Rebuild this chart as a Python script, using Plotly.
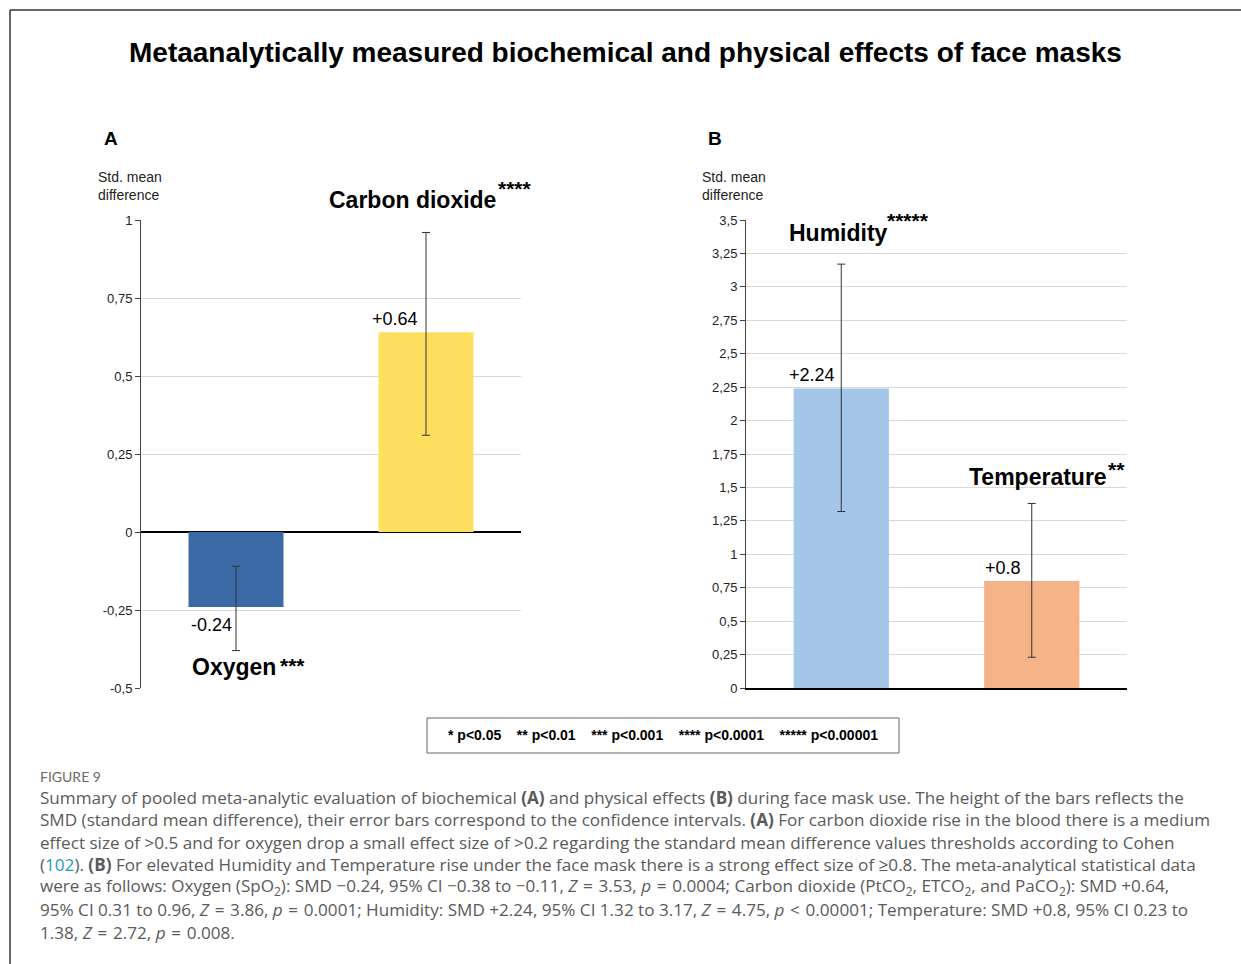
import plotly.graph_objects as go

# ---- data -------------------------------------------------------------
categories_a = ["Oxygen", "Carbon dioxide"]
smd_a = [-0.24, 0.64]
ci_low_a = [-0.38, 0.31]
ci_high_a = [-0.11, 0.96]
stars_a = ["***", "****"]
colors_a = ["#3B6AA6", "#FFDF5F"]

categories_b = ["Humidity", "Temperature"]
smd_b = [2.24, 0.8]
ci_low_b = [1.32, 0.23]
ci_high_b = [3.17, 1.38]
stars_b = ["*****", "**"]
colors_b = ["#A4C6E8", "#F5B488"]

ticks_a = [-0.5, -0.25, 0, 0.25, 0.5, 0.75, 1]
ticks_b = [0, 0.25, 0.5, 0.75, 1, 1.25, 1.5, 1.75, 2, 2.25, 2.5, 2.75, 3, 3.25, 3.5]

significance_key = ["* p<0.05", "** p<0.01", "*** p<0.001", "**** p<0.0001", "***** p<0.00001"]

# ---- layout helpers ---------------------------------------------------
W, H = 1241, 964
ARIAL = "Liberation Sans, Arial, sans-serif"
CAPTION_FONT = "Open Sans, Lato, sans-serif"


def px(x):
    return x / W


def py(y):
    return 1 - y / H


def comma(v):
    s = f"{v:g}"
    return s.replace(".", ",")


fig = go.Figure()


def add_bars(cats, vals, lo, hi, cols, xa, ya):
    fig.add_trace(go.Bar(
        x=cats, y=vals, marker=dict(color=cols, line=dict(width=0)),
        width=0.5,
        error_y=dict(type="data", symmetric=False,
                     array=[h - v for h, v in zip(hi, vals)],
                     arrayminus=[v - l for v, l in zip(vals, lo)],
                     color="#333333", thickness=1, width=4),
        xaxis=xa, yaxis=ya, showlegend=False, hoverinfo="skip",
    ))


add_bars(categories_a, smd_a, ci_low_a, ci_high_a, colors_a, "x", "y")
add_bars(categories_b, smd_b, ci_low_b, ci_high_b, colors_b, "x2", "y2")

y_dom = [py(688), py(220)]
yaxis_common = dict(
    showline=True, linecolor="#444444", linewidth=1,
    ticks="outside", ticklen=5, tickcolor="#444444",
    gridcolor="#D9D9D9", gridwidth=1,
    tickfont=dict(family=ARIAL, size=13, color="#222222"),
    fixedrange=True, automargin=False,
)

fig.update_layout(
    width=W, height=H, autosize=False,
    margin=dict(l=0, r=0, t=0, b=0, pad=0, autoexpand=False),
    paper_bgcolor="white", plot_bgcolor="white",
    bargap=0.5,
    xaxis=dict(domain=[px(141), px(521)], type="category", range=[-0.5, 1.5],
               showticklabels=False, showgrid=False, zeroline=False, showline=False,
               fixedrange=True, automargin=False),
    yaxis=dict(domain=y_dom, range=[-0.5, 1], tickvals=ticks_a,
               ticktext=[comma(t) for t in ticks_a],
               zeroline=True, zerolinecolor="#000000", zerolinewidth=2,
               **yaxis_common),
    xaxis2=dict(domain=[px(746), px(1127)], type="category", range=[-0.5, 1.5],
                showticklabels=False, showgrid=False, zeroline=False,
                showline=True, linecolor="#000000", linewidth=2,
                anchor="y2", fixedrange=True, automargin=False),
    yaxis2=dict(domain=y_dom, range=[0, 3.5], tickvals=ticks_b,
                ticktext=[comma(t) for t in ticks_b],
                zeroline=False, anchor="x2",
                **yaxis_common),
)

annotations = []


def note(text, x, y, size, xanchor="left", yanchor="middle", color="#000000",
         family=ARIAL, xref="paper", yref="paper", xshift=0, yshift=0):
    annotations.append(dict(
        text=text, x=x, y=y, xref=xref, yref=yref, xanchor=xanchor, yanchor=yanchor,
        showarrow=False, font=dict(family=family, size=size, color=color),
        xshift=xshift, yshift=yshift, align="left",
    ))


# title
note("<b>Metaanalytically measured biochemical and physical effects of face masks</b>",
     px(625), py(52), 28, xanchor="center")

# panel letters and axis titles
note("<b>A</b>", px(102), py(139), 19)
note("<b>B</b>", px(706), py(139), 19)
note("Std. mean<br>difference", px(96), py(186), 14, color="#222222")
note("Std. mean<br>difference", px(700), py(186), 14, color="#222222")

# value labels tied to the bar values
for cat, v in zip(categories_a, smd_a):
    if v >= 0:
        note(f"{v:+g}", cat, v, 18, xanchor="center", yanchor="bottom",
             xref="x", yref="y", xshift=-31, yshift=1)
    else:
        note(f"{v:+g}", cat, v, 18, xanchor="center", yanchor="top",
             xref="x", yref="y", xshift=-25, yshift=-6)
for cat, v in zip(categories_b, smd_b):
    note(f"{v:+g}", cat, v, 18, xanchor="center", yanchor="bottom",
         xref="x2", yref="y2", xshift=-29, yshift=1)

# category names with significance stars (stars raised like superscripts)
name_pos = {
    "Oxygen": (190, 667, 278, 662),
    "Carbon dioxide": (327, 200, 496, 186),
    "Humidity": (787, 233, 885, 218),
    "Temperature": (967, 477, 1106, 466),
}
for cat, st in list(zip(categories_a, stars_a)) + list(zip(categories_b, stars_b)):
    nx, ny, sx, sy = name_pos[cat]
    note(f"<b>{cat}</b>", px(nx), py(ny), 23)
    note(f"<b>{st}</b>", px(sx), py(sy + 3), 21)

# significance key box
note("<b>" + "&nbsp;&nbsp;&nbsp;&nbsp;".join(significance_key) + "</b>",
     px(663), py(735), 14, xanchor="center")

# caption (math relations get slightly wider, typeset-style spacing)
EQ = "\u2004=\u2004"
LT = "\u2004&lt;\u2004"
note("FIGURE 9", px(38), py(776), 14, color="#6B6B6B", family="Lato, sans-serif")
caption_lines = [
    "Summary of pooled meta-analytic evaluation of biochemical <b>(A)</b> and physical effects <b>(B)</b> during face mask use. The height of the bars reflects the",
    "SMD (standard mean difference), their error bars correspond to the confidence intervals. <b>(A)</b> For carbon dioxide rise in the blood there is a medium",
    "effect size of &gt;0.5 and for oxygen drop a small effect size of &gt;0.2 regarding the standard mean difference values thresholds according to Cohen",
    "(<span style='color:#1E9CC0'>102</span>). <b>(B)</b> For elevated Humidity and Temperature rise under the face mask there is a strong effect size of ≥0.8. The meta-analytical statistical data",
    f"were as follows: Oxygen (SpO<sub>2</sub>): SMD −0.24, 95% CI −0.38 to −0.11, <i>Z</i>{EQ}3.53, <i>p</i>{EQ}0.0004; Carbon dioxide (PtCO<sub>2</sub>, ETCO<sub>2</sub>, and PaCO<sub>2</sub>): SMD +0.64,",
    f"95% CI 0.31 to 0.96, <i>Z</i>{EQ}3.86, <i>p</i>{EQ}0.0001; Humidity: SMD +2.24, 95% CI 1.32 to 3.17, <i>Z</i>{EQ}4.75, <i>p</i>{LT}0.00001; Temperature: SMD +0.8, 95% CI 0.23 to",
    f"1.38, <i>Z</i>{EQ}2.72, <i>p</i>{EQ}0.008.",
]
for i, line in enumerate(caption_lines):
    note(line, px(38), py(797 + i * 22.5), 17.1, color="#5A5A5A", family=CAPTION_FONT)

fig.update_layout(annotations=annotations)

# frame lines and key box
fig.update_layout(shapes=[
    dict(type="line", xref="paper", yref="paper", x0=px(10), y0=py(10), x1=1, y1=py(10),
         line=dict(color="#333333", width=1.5)),
    dict(type="line", xref="paper", yref="paper", x0=px(10), y0=py(10), x1=px(10), y1=0,
         line=dict(color="#333333", width=1.5)),
    dict(type="rect", xref="paper", yref="paper", x0=px(427), y0=py(718), x1=px(899), y1=py(753),
         line=dict(color="#666666", width=1)),
])

fig.write_html(
    "out.html",
    config={"displayModeBar": False},
    post_script="document.body.style.margin='0';document.body.style.overflow='hidden';",
)
